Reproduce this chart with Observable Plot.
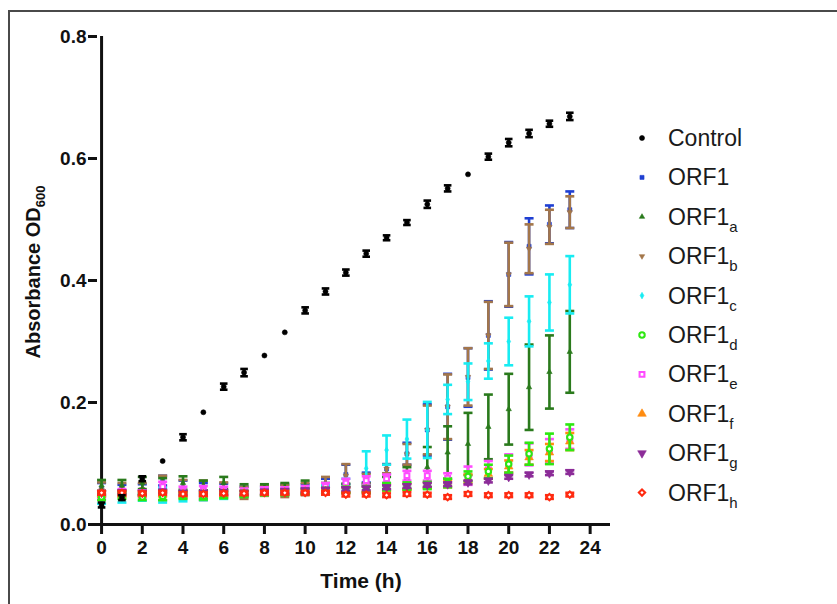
<!DOCTYPE html>
<html><head><meta charset="utf-8">
<script src="https://cdn.jsdelivr.net/npm/d3@7"></script>
<script src="https://cdn.jsdelivr.net/npm/@observablehq/plot@0.6"></script>
<style>
html,body{margin:0;padding:0;background:#fff;overflow:hidden;}
#wrap{position:relative;width:837px;height:604px;overflow:hidden;background:#fff;}
#frame{position:absolute;left:8px;top:10px;width:900px;height:700px;border-left:2px solid #4a4a4a;border-top:2px solid #4a4a4a;pointer-events:none;z-index:2;}
#chart{position:absolute;left:0;top:0;z-index:1;}
</style></head><body><div id="wrap"><div id="chart"></div><div id="frame"></div></div>
<script>
// ---- data ----
const hours = [0,1,2,3,4,5,6,7,8,9,10,11,12,13,14,15,16,17,18,19,20,21,22,23];
const xTicks = [0,2,4,6,8,10,12,14,16,18,20,22,24];
const yTicks = [0.0,0.2,0.4,0.6,0.8];
const seriesNames = ["Control","ORF1","ORF1a","ORF1b","ORF1c","ORF1d","ORF1e","ORF1f","ORF1g","ORF1h"];
const seriesSubs  = ["","","a","b","c","d","e","f","g","h"];

const controlMean = [0.032,0.044,0.075,0.104,0.143,0.184,0.226,0.249,0.277,0.315,0.351,0.382,0.413,0.444,0.470,0.495,0.525,0.551,0.574,0.603,0.626,0.641,0.657,0.669];
const controlSd   = [0.004,0.004,0.004,0.000,0.005,0.000,0.005,0.006,0.000,0.000,0.005,0.005,0.005,0.005,0.004,0.004,0.006,0.005,0.000,0.005,0.006,0.006,0.005,0.006];
const orf1Mean  = [0.058,0.057,0.057,0.072,0.060,0.056,0.058,0.054,0.055,0.057,0.058,0.063,0.082,0.077,0.091,0.116,0.155,0.193,0.241,0.310,0.410,0.456,0.492,0.516];
const orf1Sd    = [0.010,0.008,0.009,0.008,0.012,0.012,0.009,0.008,0.007,0.008,0.008,0.012,0.016,0.008,0.008,0.018,0.042,0.054,0.048,0.056,0.053,0.046,0.031,0.030];
const orf1aMean = [0.064,0.064,0.068,0.066,0.068,0.064,0.068,0.058,0.058,0.060,0.062,0.060,0.059,0.059,0.068,0.076,0.094,0.118,0.132,0.160,0.189,0.225,0.250,0.283];
const orf1aSd   = [0.009,0.009,0.010,0.010,0.011,0.008,0.010,0.008,0.008,0.008,0.010,0.008,0.008,0.008,0.010,0.018,0.033,0.043,0.051,0.053,0.058,0.070,0.060,0.067];
const orf1bMean = [0.057,0.058,0.058,0.060,0.058,0.056,0.057,0.052,0.055,0.055,0.058,0.064,0.080,0.075,0.091,0.115,0.155,0.193,0.242,0.310,0.410,0.452,0.488,0.512];
const orf1bSd   = [0.012,0.010,0.010,0.020,0.015,0.016,0.012,0.010,0.008,0.010,0.010,0.014,0.019,0.008,0.007,0.017,0.040,0.053,0.047,0.055,0.052,0.040,0.028,0.026];
const orf1cMean = [0.040,0.042,0.045,0.048,0.046,0.046,0.048,0.050,0.053,0.054,0.056,0.058,0.065,0.092,0.122,0.140,0.155,0.205,0.234,0.268,0.300,0.333,0.364,0.393];
const orf1cSd   = [0.006,0.006,0.006,0.012,0.008,0.006,0.006,0.004,0.005,0.005,0.005,0.006,0.010,0.028,0.024,0.032,0.046,0.024,0.030,0.029,0.039,0.041,0.046,0.047];
const orf1dMean = [0.045,0.047,0.045,0.046,0.047,0.046,0.048,0.050,0.052,0.052,0.054,0.055,0.057,0.058,0.062,0.063,0.064,0.068,0.079,0.087,0.099,0.116,0.124,0.143];
const orf1dSd   = [0.005,0.005,0.005,0.006,0.005,0.005,0.005,0.005,0.004,0.004,0.004,0.005,0.005,0.005,0.006,0.006,0.006,0.007,0.008,0.011,0.014,0.018,0.025,0.021];
const orf1eMean = [0.048,0.052,0.050,0.062,0.055,0.056,0.055,0.054,0.056,0.056,0.058,0.062,0.068,0.072,0.075,0.080,0.080,0.076,0.080,0.090,0.100,0.115,0.120,0.140];
const orf1eSd   = [0.006,0.006,0.006,0.008,0.007,0.007,0.007,0.005,0.005,0.005,0.005,0.006,0.007,0.007,0.007,0.008,0.008,0.008,0.015,0.014,0.015,0.018,0.020,0.016];
const orf1fMean = [0.050,0.050,0.050,0.050,0.050,0.050,0.051,0.051,0.052,0.053,0.054,0.055,0.057,0.058,0.060,0.062,0.064,0.067,0.075,0.083,0.095,0.110,0.118,0.136];
const orf1fSd   = [0.004,0.004,0.004,0.004,0.004,0.004,0.004,0.004,0.004,0.004,0.004,0.004,0.004,0.004,0.005,0.005,0.005,0.006,0.007,0.008,0.010,0.012,0.014,0.014];
const orf1gMean = [0.052,0.053,0.052,0.054,0.052,0.052,0.053,0.052,0.054,0.055,0.056,0.057,0.058,0.059,0.061,0.063,0.065,0.066,0.069,0.072,0.078,0.082,0.084,0.086];
const orf1gSd   = [0.003,0.003,0.003,0.003,0.003,0.003,0.003,0.003,0.003,0.003,0.003,0.003,0.003,0.003,0.003,0.003,0.003,0.003,0.003,0.003,0.003,0.003,0.003,0.003];
const orf1hMean = [0.052,0.052,0.051,0.052,0.050,0.050,0.051,0.051,0.052,0.052,0.052,0.052,0.049,0.049,0.048,0.050,0.049,0.045,0.050,0.048,0.048,0.048,0.045,0.049];
const orf1hSd   = [0.003,0.003,0.003,0.003,0.003,0.003,0.003,0.003,0.003,0.003,0.003,0.003,0.003,0.003,0.003,0.003,0.003,0.003,0.003,0.003,0.003,0.003,0.003,0.003];

const means = [controlMean, orf1Mean, orf1aMean, orf1bMean, orf1cMean, orf1dMean, orf1eMean, orf1fMean, orf1gMean, orf1hMean];
const sds   = [controlSd, orf1Sd, orf1aSd, orf1bSd, orf1cSd, orf1dSd, orf1eSd, orf1fSd, orf1gSd, orf1hSd];

// ---- styles ----
const styles = {
  "Control": {color:"#000000", symbol:"circle",   filled:true,  r:2.5, rot:0,   cap:3.8},
  "ORF1":    {color:"#1f3fd2", symbol:"square",   filled:true,  r:2.3, rot:0,   cap:4.5},
  "ORF1a":   {color:"#2a7a1c", symbol:"triangle", filled:true,  r:2.0, rot:0,   cap:4.5},
  "ORF1b":   {color:"#a3764a", symbol:"triangle", filled:true,  r:2.0, rot:180, cap:4.5},
  "ORF1c":   {color:"#18ecf2", symbol:"diamond",  filled:true,  r:2.0, rot:0,   cap:4.5},
  "ORF1d":   {color:"#2ee812", symbol:"circle",   filled:false, r:2.7, rot:0,   cap:4.5},
  "ORF1e":   {color:"#ff4cff", symbol:"square",   filled:false, r:2.7, rot:0,   cap:4.5},
  "ORF1f":   {color:"#ff8c10", symbol:"triangle", filled:true,  r:3.2, rot:0,   cap:4.5},
  "ORF1g":   {color:"#8c2c98", symbol:"triangle", filled:true,  r:3.2, rot:180, cap:4.5},
  "ORF1h":   {color:"#ff2a10", symbol:"square",   filled:false, r:2.5, rot:45,  cap:4.5}
};
const drawOrder = ["ORF1","ORF1b","ORF1a","ORF1c","ORF1e","ORF1f","ORF1d","ORF1g","ORF1h","Control"];

const rows = [];
seriesNames.forEach((name, s) => {
  hours.forEach((t, i) => rows.push({series:name, t, m:means[s][i], sd:sds[s][i]}));
});

const capSymbol = {draw(ctx, size){ const r = Math.sqrt(size/Math.PI); ctx.moveTo(-r,0); ctx.lineTo(r,0); }};

const marks = [];
for (const name of drawOrder) {
  const st = styles[name];
  const d = rows.filter(r => r.series === name);
  const e = d.filter(r => r.sd > 0);
  marks.push(Plot.ruleX(e, {x:"t", y1:r=>r.m-r.sd, y2:r=>r.m+r.sd, stroke:st.color, strokeWidth:2.6}));
  marks.push(Plot.dot(e, {x:"t", y:r=>r.m+r.sd, symbol:capSymbol, r:st.cap, stroke:st.color, fill:"none", strokeWidth:2.6}));
  marks.push(Plot.dot(e, {x:"t", y:r=>r.m-r.sd, symbol:capSymbol, r:st.cap, stroke:st.color, fill:"none", strokeWidth:2.6}));
  marks.push(Plot.dot(d, {x:"t", y:"m", symbol:st.symbol, r:st.r, rotate:st.rot,
    fill: st.filled ? st.color : "white", stroke: st.color, strokeWidth: st.filled ? 0.6 : 2.1}));
}

const chart = Plot.plot({
  width: 837, height: 604,
  marginTop: 36, marginBottom: 80, marginLeft: 97, marginRight: 227,
  style: {fontFamily: "'Liberation Sans', Arial, sans-serif", color: "#111", background: "transparent", overflow: "visible"},
  x: {domain: [-0.2, 25]},
  y: {domain: [0, 0.8]},
  marks: [
    Plot.axisX({ticks: xTicks, tickSize: 10, tickPadding: 6, fontSize: 19, fontWeight: "bold", strokeWidth: 3, label: null}),
    Plot.axisY({ticks: yTicks, tickFormat: d => d.toFixed(1), tickSize: 9, tickPadding: 2, fontSize: 19, fontWeight: "bold", strokeWidth: 3, label: null}),
    Plot.ruleY([0], {x1: -0.2, x2: 25, strokeWidth: 3}),
    Plot.ruleX([0], {y1: 0, y2: 0.8, strokeWidth: 3}),
    ...marks
  ]
});
document.getElementById("chart").appendChild(chart);

// ---- axis titles and legend (text with subscripts) ----
const svg = d3.select(chart);
const font = "'Liberation Sans', Arial, sans-serif";
const yt = svg.append("text").attr("transform", "translate(40,272) rotate(-90)")
  .attr("text-anchor", "middle").attr("font-family", font).attr("font-size", 20).attr("font-weight", "bold").attr("fill", "#111");
yt.append("tspan").text("Absorbance OD");
yt.append("tspan").attr("font-size", 13).attr("dy", 5).text("600");

svg.append("text").attr("x", 361).attr("y", 588).attr("text-anchor", "middle")
  .attr("font-family", font).attr("font-size", 21).attr("font-weight", "bold").attr("fill", "#111").text("Time (h)");

const symMap = {circle: d3.symbolCircle, square: d3.symbolSquare, triangle: d3.symbolTriangle, diamond: d3.symbolDiamond};
const lg = svg.append("g");
seriesNames.forEach((name, i) => {
  const st = styles[name];
  const y = 138 + i * 39.4;
  lg.append("path")
    .attr("d", d3.symbol(symMap[st.symbol], st.r * st.r * Math.PI)())
    .attr("transform", `translate(642,${y}) rotate(${st.rot})`)
    .attr("fill", st.filled ? st.color : "white").attr("stroke", st.color).attr("stroke-width", st.filled ? 0.6 : 2.1);
  const base = seriesSubs[i] ? name.slice(0, -1) : name;
  const t = lg.append("text").attr("x", 668).attr("y", y + 8).attr("text-anchor", "start")
    .attr("font-family", font).attr("font-size", 23).attr("fill", "#1a1a1a");
  t.append("tspan").text(base);
  if (seriesSubs[i]) t.append("tspan").attr("font-size", 15).attr("dy", 7).text(seriesSubs[i]);
});
</script></body></html>
